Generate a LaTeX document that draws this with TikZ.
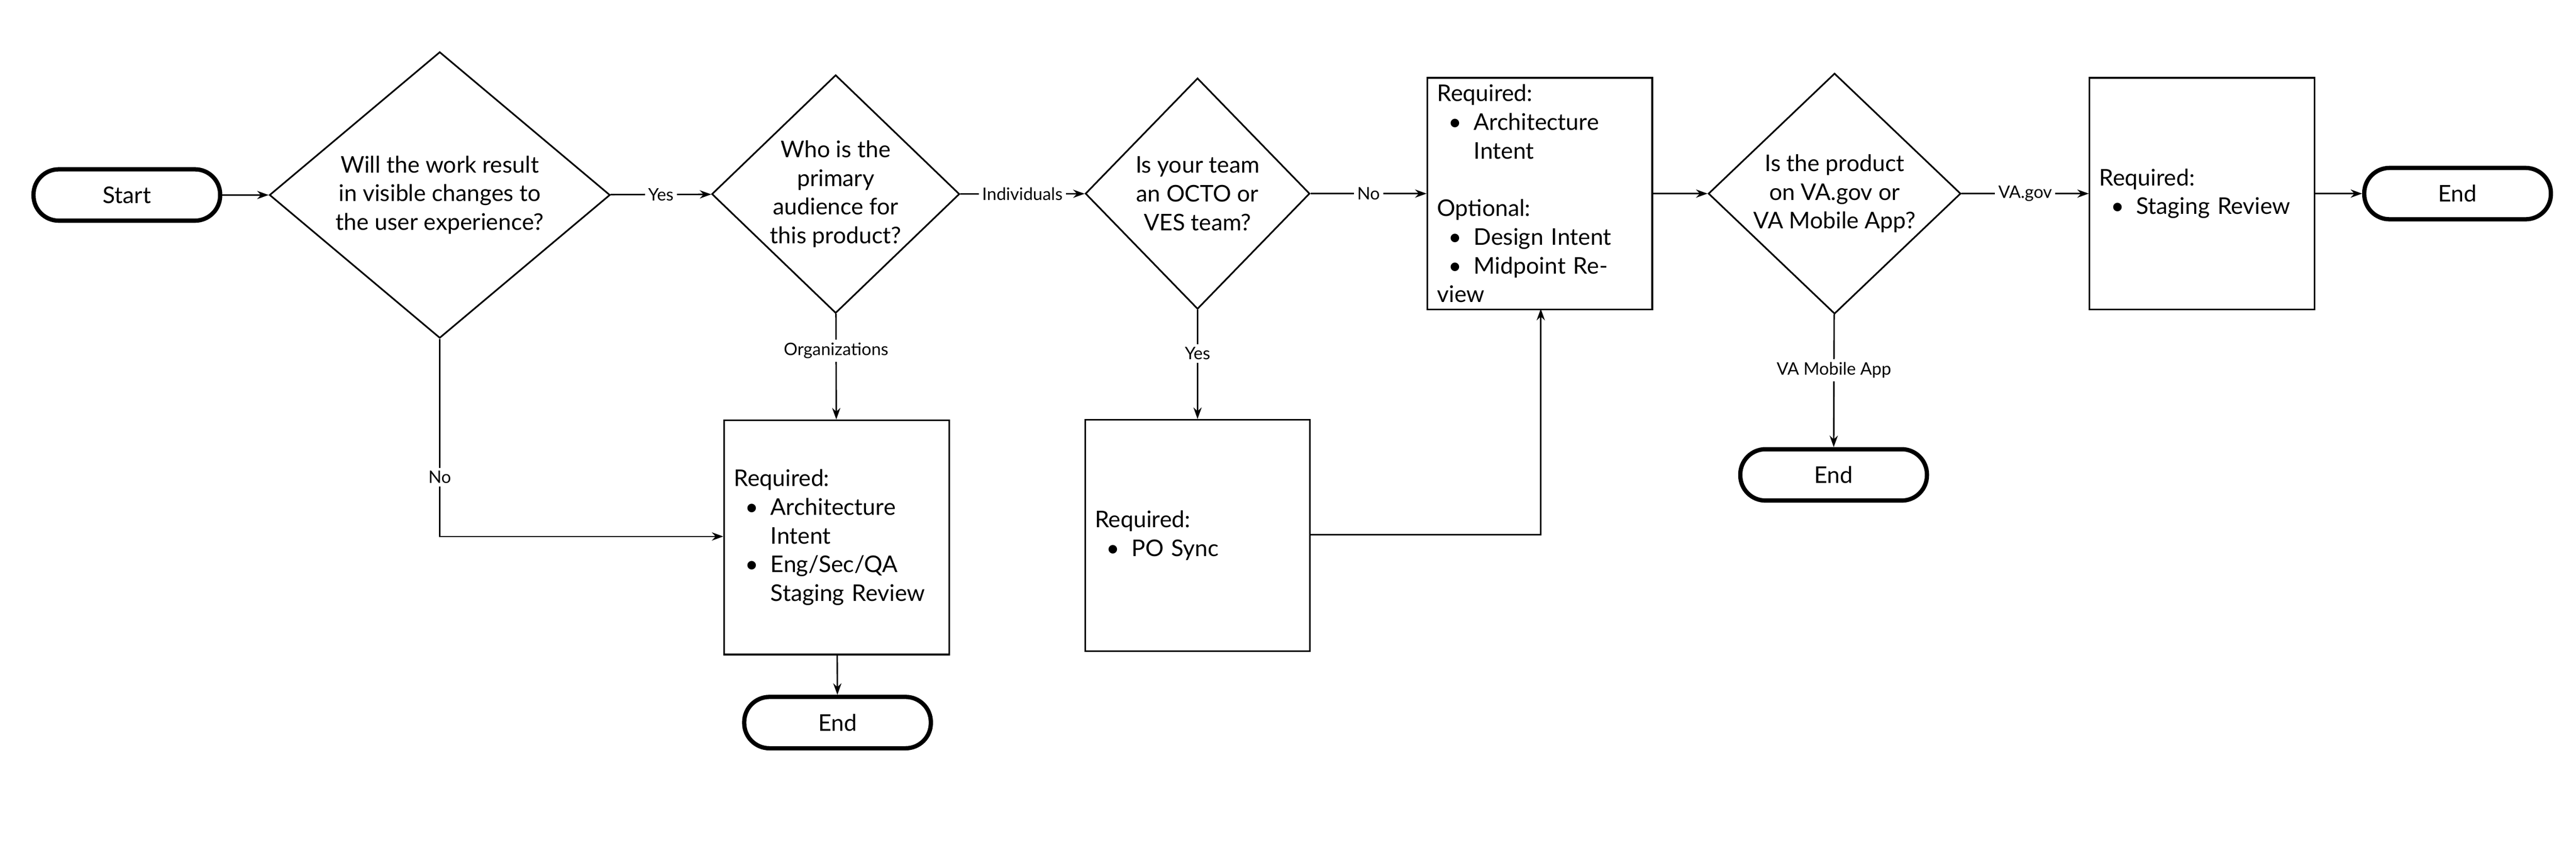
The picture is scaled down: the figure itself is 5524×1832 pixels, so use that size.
\documentclass[tikz,border=0pt]{standalone}
\usepackage{fontspec}
\setmainfont{Lato}
\usetikzlibrary{shapes.geometric,arrows.meta}
\newcommand{\bl}[1]{\hspace*{0.5em}\makebox[1.1em][l]{\textbullet}#1}
\newcommand{\bc}[1]{\hspace*{1.6em}#1}
\begin{document}
\begin{tikzpicture}[x=0.01cm,y=-0.01cm,
  every node/.style={font=\fontsize{14pt}{17.5pt}\selectfont},
  term/.style={draw,line width=2.6pt,rounded corners=5.4mm,minimum width=40mm,minimum height=11mm,inner sep=0},
  dec/.style={draw,diamond,line width=1pt,inner sep=0,align=center},
  box/.style={draw,line width=1pt,minimum width=48.2mm,minimum height=49.6mm,text width=44mm,align=left,inner sep=0},
  lab/.style={fill=white,inner sep=2pt,font=\fontsize{10.5pt}{12pt}\selectfont},
  arr/.style={line width=0.9pt,-{Stealth[length=7pt,width=5pt]}},
  ln/.style={line width=0.9pt}]
\useasboundingbox (0,0) rectangle (5524,1832);
\node[term] (start) at (272,418) {Start};
\node[dec,minimum width=73mm,minimum height=49.8mm] (d1) at (943,418) {Will the work result\\in visible changes to\\the user experience?};
\node[dec,minimum width=53.1mm,minimum height=49.9mm] (d2) at (1792,416) {Who is the\\primary\\audience for\\this product?};
\node[dec,minimum width=48.1mm,minimum height=49.5mm] (d3) at (2568,415) {Is your team\\an OCTO or\\VES team?};
\node[box] (b1) at (3302,415) {Required:\\\bl{Architecture}\\\bc{Intent}\\[17.5pt]Optional:\\\bl{Design Intent}\\\bl{Midpoint Review}};
\node[dec,minimum width=54.1mm,minimum height=49.5mm] (d4) at (3934,415) {Is the product\\on VA.gov or\\VA Mobile App?};
\node[box] (b2) at (4722,415) {Required:\\\bl{Staging Review}};
\node[term] (end1) at (5270,415) {End};
\node[box,minimum height=50.2mm] (b3) at (1794,1152) {Required:\\\bl{Architecture}\\\bc{Intent}\\\bl{Eng/Sec/QA}\\\bc{Staging Review}};
\node[term] (end2) at (1796,1549) {End};
\node[box] (b4) at (2568,1148) {Required:\\\bl{PO Sync}};
\node[term] (end3) at (3932,1018) {End};
\draw[arr] (start) -- (d1);
\draw[arr] (d1) -- node[lab]{Yes} (d2);
\draw[arr] (d2) -- node[lab]{Individuals} (d3);
\draw[arr] (d3) -- node[lab]{No} (b1);
\draw[arr] (b1) -- (d4);
\draw[arr] (d4) -- node[lab]{VA.gov} (b2);
\draw[arr] (b2) -- (end1);
\draw[arr] (d2) -- node[lab,pos=0.35]{Organizations} (b3);
\draw[arr] (d1.south) |- node[lab,pos=0.35]{No} (b3.west |- 0,1150);
\draw[arr] (b3) -- (end2);
\draw[arr] (d3) -- node[lab,pos=0.4]{Yes} (b4);
\draw[arr] (b4.east |- 0,1146) -| (3304,662);
\draw[arr] (d4) -- node[lab,pos=0.42]{VA Mobile App} (end3);
\end{tikzpicture}
\end{document}
